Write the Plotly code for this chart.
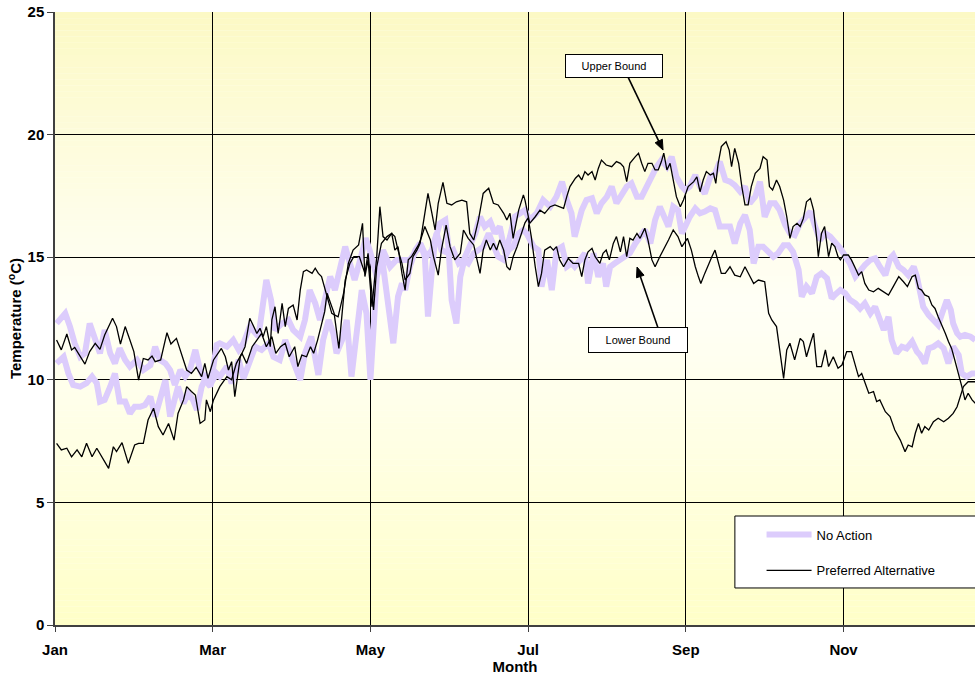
import plotly.graph_objects as go

# Month positions (0 = 1 Jan, 1 = 1 Feb, ...), temperatures in deg C.
# No Action: two bounding traces
na_a_month = [0.02, 0.13, 0.19, 0.25, 0.32, 0.38, 0.44, 0.51, 0.57, 0.63, 0.70, 0.76, 0.82, 0.89, 0.95, 1.04,
              1.12, 1.21, 1.27, 1.33, 1.40, 1.46, 1.52, 1.59, 1.65, 1.71, 1.78, 1.84, 1.90, 1.97, 2.01, 2.05,
              2.09, 2.18, 2.26, 2.33, 2.39, 2.47, 2.58, 2.68, 2.74, 2.79, 2.88, 2.96, 3.02, 3.11, 3.17, 3.23,
              3.30, 3.36, 3.42, 3.49, 3.55, 3.61, 3.68, 3.74, 3.80, 3.87, 3.94, 3.99, 4.08, 4.16, 4.25, 4.33,
              4.42, 4.50, 4.59, 4.65, 4.71, 4.78, 4.84, 4.90, 4.99, 5.05, 5.12, 5.18, 5.24, 5.31, 5.37, 5.43,
              5.50, 5.56, 5.62, 5.69, 5.75, 5.81, 5.88, 5.94, 5.98, 6.07, 6.13, 6.17, 6.24, 6.30, 6.36, 6.43,
              6.49, 6.55, 6.59, 6.66, 6.72, 6.76, 6.83, 6.89, 6.95, 6.99, 7.04, 7.10, 7.17, 7.23, 7.29, 7.36,
              7.42, 7.48, 7.55, 7.61, 7.67, 7.74, 7.78, 7.84, 7.90, 7.95, 7.99, 8.05, 8.12, 8.18, 8.24, 8.31,
              8.37, 8.43, 8.50, 8.56, 8.62, 8.69, 8.75, 8.81, 8.86, 8.92, 8.98, 9.05, 9.11, 9.17, 9.24, 9.30,
              9.36, 9.43, 9.47, 9.53, 9.60, 9.66, 9.72, 9.79, 9.85, 9.89, 9.96, 10.02, 10.08, 10.15, 10.21,
              10.27, 10.34, 10.40, 10.46, 10.51, 10.57, 10.61, 10.67, 10.74, 10.80, 10.87, 10.93, 10.97, 11.03,
              11.08, 11.14, 11.20, 11.27, 11.33, 11.39, 11.46, 11.50, 11.56, 11.63, 11.67]
na_a_temp = [12.30, 12.71, 12.17, 11.49, 10.94, 11.08, 12.30, 11.62, 11.08, 12.03, 11.08, 10.67, 11.28, 10.81, 10.54, 10.81,
             10.40, 10.60, 11.35, 10.81, 10.67, 10.40, 9.79, 10.40, 10.13, 10.40, 11.22, 10.40, 9.99, 9.72, 10.67, 11.42,
             11.49, 11.35, 11.62, 11.22, 11.49, 12.17, 11.76, 14.07, 13.25, 12.03, 12.30, 12.44, 12.03, 11.76, 12.44, 13.66,
             13.12, 12.44, 13.25, 14.21, 13.66, 14.48, 15.43, 14.75, 14.07, 14.89, 15.77, 15.29, 14.20, 15.29, 14.61, 14.89,
             14.89, 14.89, 15.29, 15.43, 15.02, 15.29, 15.97, 15.29, 15.16, 15.29, 14.75, 14.89, 14.75, 15.16, 15.29, 15.43,
             15.97, 15.43, 15.02, 14.89, 15.29, 15.43, 15.97, 16.11, 15.97, 15.43, 15.29, 13.80, 14.89, 13.66, 15.29, 15.43,
             14.61, 14.75, 14.61, 14.89, 15.16, 13.93, 15.16, 14.20, 14.75, 13.80, 14.61, 14.75, 14.89, 15.02, 15.16, 15.56,
             15.84, 16.11, 15.56, 16.52, 17.06, 16.52, 16.25, 17.06, 16.92, 15.97, 16.25, 16.65, 16.99, 16.79, 16.86, 16.99,
             16.92, 16.25, 16.25, 16.25, 15.56, 16.38, 16.72, 16.11, 14.75, 15.43, 15.43, 15.16, 15.02, 15.16, 15.49, 15.49,
             15.22, 14.48, 13.39, 13.80, 13.53, 14.20, 14.34, 14.14, 13.32, 13.46, 13.66, 13.53, 13.26, 13.12, 12.91,
             13.12, 12.71, 12.98, 12.51, 12.03, 12.57, 11.62, 11.08, 11.35, 11.28, 11.56, 11.15, 11.01, 10.67,
             11.28, 11.35, 11.49, 11.28, 10.67, 11.35, 11.01, 10.26, 10.13, 10.26, 10.26]

na_b_month = [0.02, 0.11, 0.17, 0.23, 0.32, 0.40, 0.47, 0.53, 0.57, 0.63, 0.70, 0.76, 0.82, 0.89, 0.95, 1.01,
              1.08, 1.14, 1.21, 1.27, 1.33, 1.40, 1.46, 1.52, 1.56, 1.63, 1.69, 1.75, 1.80, 1.86, 1.92, 1.99,
              2.05, 2.09, 2.18, 2.24, 2.33, 2.39, 2.45, 2.54, 2.62, 2.71, 2.77, 2.85, 2.92, 2.98, 3.04, 3.11,
              3.17, 3.25, 3.34, 3.40, 3.47, 3.53, 3.57, 3.64, 3.70, 3.76, 3.83, 3.89, 3.95, 4.00, 4.08, 4.14,
              4.19, 4.25, 4.29, 4.35, 4.40, 4.44, 4.50, 4.57, 4.63, 4.69, 4.73, 4.78, 4.82, 4.88, 4.95, 4.99,
              5.03, 5.09, 5.14, 5.20, 5.26, 5.33, 5.39, 5.45, 5.52, 5.58, 5.64, 5.71, 5.77, 5.83, 5.90, 5.96,
              6.02, 6.11, 6.19, 6.28, 6.36, 6.43, 6.49, 6.55, 6.59, 6.68, 6.74, 6.81, 6.87, 6.93, 7.00, 7.06,
              7.12, 7.19, 7.25, 7.31, 7.38, 7.44, 7.50, 7.57, 7.63, 7.69, 7.76, 7.82, 7.88, 7.95, 7.99, 8.05,
              8.12, 8.18, 8.24, 8.31, 8.37, 8.43, 8.50, 8.56, 8.62, 8.69, 8.75, 8.81, 8.88, 8.94, 9.00, 9.07,
              9.13, 9.19, 9.26, 9.32, 9.38, 9.45, 9.51, 9.58, 9.64, 9.70, 9.77, 9.83, 9.96, 10.02, 10.08,
              10.15, 10.21, 10.27, 10.34, 10.40, 10.46, 10.53, 10.59, 10.63, 10.70, 10.76, 10.82, 10.89, 10.93,
              10.97, 11.01, 11.08, 11.14, 11.20, 11.25, 11.31, 11.36, 11.39, 11.44, 11.48, 11.54, 11.61, 11.67]
na_b_temp = [10.67, 10.94, 10.26, 9.79, 9.72, 9.86, 10.13, 9.86, 9.11, 9.18, 9.72, 10.26, 9.11, 9.11, 8.63, 8.90,
             8.90, 8.97, 9.31, 8.50, 9.18, 9.99, 8.50, 9.18, 9.72, 9.04, 9.45, 9.18, 8.77, 9.72, 10.13, 9.92,
             10.26, 10.13, 10.54, 9.85, 10.81, 10.06, 10.54, 11.35, 11.22, 11.49, 10.94, 10.81, 11.62, 11.08, 10.54, 9.99,
             11.08, 11.76, 10.20, 11.62, 12.44, 11.89, 11.08, 11.62, 12.44, 10.13, 12.03, 13.66, 12.71, 10.00, 14.20, 15.16,
             13.93, 12.44, 11.49, 13.39, 13.93, 13.66, 14.61, 15.29, 15.57, 15.02, 12.58, 14.48, 15.70, 16.38, 16.52, 15.43,
             13.25, 12.30, 14.20, 15.02, 15.43, 15.97, 16.65, 16.25, 16.45, 15.97, 16.25, 15.16, 15.84, 16.65, 16.79, 16.92,
             16.52, 16.79, 17.33, 17.06, 17.47, 18.08, 17.33, 16.79, 15.84, 16.92, 17.33, 17.40, 16.79, 17.20, 17.47, 17.88,
             17.20, 17.60, 17.88, 18.01, 17.47, 17.47, 17.88, 18.28, 18.69, 18.96, 18.69, 19.10, 18.28, 17.88, 17.74, 17.88,
             18.35, 17.88, 17.60, 18.28, 18.42, 18.90, 18.15, 18.08, 17.94, 17.67, 17.88, 17.20, 17.47, 18.08, 16.65, 17.20,
             17.20, 16.92, 16.31, 15.97, 15.90, 16.38, 16.65, 16.86, 16.25, 15.70, 15.97, 15.84, 15.36, 15.09, 14.75,
             14.21, 14.48, 14.68, 14.89, 14.95, 14.61, 14.27, 14.95, 15.09, 14.61, 14.48, 14.27, 14.61, 14.21,
             13.53, 12.98, 12.64, 12.44, 12.23, 12.71, 13.25, 12.85, 12.30, 11.90, 11.76, 11.83, 11.76, 11.62]

# Preferred Alternative: upper and lower bounds
pa_hi_month = [0.02, 0.08, 0.15, 0.21, 0.25, 0.32, 0.38, 0.44, 0.51, 0.57, 0.63, 0.73, 0.78, 0.83, 0.89, 0.95,
               1.00, 1.06, 1.12, 1.18, 1.23, 1.27, 1.34, 1.42, 1.47, 1.54, 1.61, 1.67, 1.73, 1.79, 1.86, 1.90,
               1.94, 2.01, 2.11, 2.16, 2.20, 2.24, 2.28, 2.35, 2.41, 2.47, 2.52, 2.56, 2.60, 2.64, 2.68, 2.73,
               2.75, 2.79, 2.83, 2.88, 2.92, 2.96, 3.02, 3.07, 3.11, 3.15, 3.19, 3.26, 3.30, 3.34, 3.38, 3.45,
               3.51, 3.55, 3.59, 3.66, 3.72, 3.78, 3.85, 3.90, 3.93, 3.97, 4.02, 4.08, 4.12, 4.16, 4.21, 4.27,
               4.31, 4.35, 4.40, 4.44, 4.50, 4.54, 4.59, 4.63, 4.67, 4.73, 4.78, 4.82, 4.86, 4.92, 4.97, 5.03,
               5.09, 5.16, 5.22, 5.26, 5.31, 5.37, 5.43, 5.50, 5.56, 5.62, 5.69, 5.73, 5.77, 5.81, 5.88, 5.94,
               5.96, 6.02, 6.09, 6.15, 6.21, 6.28, 6.34, 6.40, 6.45, 6.49, 6.53, 6.60, 6.64, 6.68, 6.72, 6.76,
               6.81, 6.85, 6.89, 6.93, 6.99, 7.06, 7.12, 7.17, 7.21, 7.25, 7.29, 7.36, 7.40, 7.44, 7.48, 7.52,
               7.57, 7.61, 7.65, 7.69, 7.72, 7.76, 7.80, 7.84, 7.88, 7.93, 7.97, 8.03, 8.10, 8.14, 8.18, 8.22,
               8.26, 8.31, 8.35, 8.38, 8.41, 8.45, 8.51, 8.55, 8.58, 8.62, 8.67, 8.71, 8.75, 8.79, 8.83, 8.88,
               8.94, 8.98, 9.03, 9.06, 9.10, 9.15, 9.19, 9.24, 9.28, 9.32, 9.36, 9.41, 9.45, 9.49, 9.53, 9.58,
               9.62, 9.66, 9.68, 9.72, 9.76, 9.81, 9.85, 9.89, 9.93, 9.96, 10.00, 10.06, 10.10, 10.15, 10.19,
               10.23, 10.27, 10.32, 10.38, 10.44, 10.51, 10.57, 10.63, 10.70, 10.76, 10.81, 10.87, 10.91, 10.95,
               10.99, 11.03, 11.08, 11.12, 11.16, 11.20, 11.25, 11.29, 11.33, 11.37, 11.41, 11.46, 11.50, 11.54,
               11.58, 11.63, 11.67]
pa_hi_temp = [11.62, 11.22, 11.87, 11.22, 11.32, 10.94, 10.64, 11.15, 11.49, 11.24, 11.83, 12.51, 12.17, 11.46, 12.17, 11.62,
              11.15, 9.99, 10.87, 10.81, 10.97, 10.74, 10.81, 11.92, 11.46, 11.69, 10.94, 10.40, 10.26, 10.51, 10.13, 10.67,
              10.06, 10.81, 11.28, 10.94, 10.40, 10.74, 9.31, 10.94, 11.35, 12.51, 12.17, 11.89, 12.10, 11.76, 12.17, 11.35,
              12.44, 12.98, 11.89, 13.12, 12.17, 12.91, 13.05, 12.44, 13.66, 14.41, 14.48, 14.34, 14.55, 14.34, 14.21, 13.39,
              12.71, 12.64, 12.57, 13.53, 14.75, 15.29, 15.50, 16.38, 14.21, 14.89, 12.98, 15.02, 17.06, 15.84, 15.70, 15.97,
              15.84, 15.29, 14.75, 14.07, 14.34, 15.02, 15.29, 15.57, 16.45, 17.60, 16.79, 16.11, 17.20, 18.05, 17.20, 17.13,
              17.26, 17.33, 17.26, 15.97, 15.70, 16.52, 17.60, 17.81, 17.20, 17.13, 16.79, 16.52, 16.79, 15.77, 16.92, 17.54,
              17.33, 16.38, 16.65, 16.92, 16.79, 17.06, 17.13, 17.06, 16.99, 17.47, 17.88, 18.22, 18.35, 18.15, 18.49, 18.35,
              18.49, 18.15, 18.62, 18.96, 18.76, 18.69, 18.90, 18.83, 18.69, 18.08, 18.83, 19.10, 19.24, 18.83, 18.49, 18.83,
              18.83, 18.56, 18.56, 18.90, 19.24, 18.56, 18.83, 18.15, 17.47, 17.06, 17.33, 17.88, 18.08, 18.28, 17.67, 18.15,
              18.49, 18.35, 18.42, 18.01, 18.83, 19.51, 19.71, 19.37, 18.69, 19.44, 18.83, 17.88, 17.13, 17.13, 17.88, 18.42,
              18.62, 19.10, 18.96, 17.88, 17.74, 18.15, 17.88, 17.33, 16.65, 15.77, 16.25, 16.38, 16.25, 16.58, 17.26, 17.40,
              16.92, 15.77, 15.02, 15.97, 16.25, 15.02, 15.57, 15.43, 15.02, 14.89, 15.09, 15.09, 14.89, 14.55, 14.27,
              14.41, 13.93, 13.66, 13.59, 13.73, 13.59, 13.46, 13.80, 14.21, 14.00, 13.80, 14.21, 14.27, 13.73,
              13.66, 13.46, 13.39, 13.05, 12.91, 12.57, 12.23, 11.90, 11.56, 11.28, 10.81, 10.26, 9.72, 9.18,
              9.45, 9.18, 9.04]

pa_lo_month = [0.02, 0.08, 0.15, 0.21, 0.28, 0.34, 0.40, 0.47, 0.53, 0.59, 0.68, 0.74, 0.78, 0.85, 0.93, 1.01,
               1.06, 1.12, 1.18, 1.25, 1.31, 1.37, 1.44, 1.51, 1.56, 1.63, 1.67, 1.73, 1.78, 1.84, 1.90, 1.92,
               1.97, 2.01, 2.05, 2.09, 2.18, 2.24, 2.30, 2.37, 2.43, 2.50, 2.56, 2.62, 2.68, 2.75, 2.80, 2.86,
               2.92, 2.97, 3.04, 3.08, 3.13, 3.19, 3.24, 3.28, 3.33, 3.37, 3.42, 3.45, 3.50, 3.54, 3.60, 3.64,
               3.68, 3.74, 3.79, 3.86, 3.93, 3.97, 4.04, 4.08, 4.14, 4.21, 4.27, 4.31, 4.35, 4.40, 4.44, 4.48,
               4.52, 4.57, 4.61, 4.65, 4.69, 4.76, 4.80, 4.86, 4.90, 4.96, 5.01, 5.07, 5.14, 5.18, 5.24, 5.31,
               5.35, 5.39, 5.43, 5.47, 5.52, 5.56, 5.60, 5.64, 5.69, 5.73, 5.77, 5.81, 5.86, 5.90, 5.96, 6.00,
               6.04, 6.09, 6.13, 6.17, 6.21, 6.28, 6.32, 6.36, 6.40, 6.45, 6.51, 6.57, 6.64, 6.68, 6.72, 6.76,
               6.81, 6.85, 6.91, 6.95, 6.99, 7.03, 7.08, 7.12, 7.17, 7.21, 7.25, 7.29, 7.33, 7.38, 7.42, 7.48,
               7.52, 7.57, 7.61, 7.67, 7.74, 7.78, 7.84, 7.90, 7.95, 8.02, 8.07, 8.12, 8.16, 8.19, 8.24, 8.29,
               8.33, 8.37, 8.41, 8.45, 8.50, 8.56, 8.62, 8.69, 8.75, 8.81, 8.86, 8.92, 9.00, 9.05, 9.09, 9.15,
               9.19, 9.24, 9.28, 9.32, 9.38, 9.45, 9.49, 9.53, 9.58, 9.62, 9.66, 9.72, 9.77, 9.81, 9.87, 9.93,
               9.98, 10.04, 10.10, 10.15, 10.19, 10.23, 10.27, 10.32, 10.38, 10.42, 10.46, 10.53, 10.59, 10.65,
               10.72, 10.78, 10.82, 10.87, 10.91, 10.95, 10.99, 11.03, 11.08, 11.14, 11.20, 11.27, 11.33, 11.39,
               11.44, 11.48, 11.52, 11.58, 11.67]
pa_lo_temp = [7.41, 7.14, 7.21, 6.86, 7.14, 6.86, 7.41, 6.86, 7.21, 6.86, 6.39, 7.27, 7.07, 7.44, 6.59, 7.34,
              7.41, 7.41, 8.36, 8.84, 8.09, 7.75, 8.22, 7.54, 8.63, 9.18, 9.72, 9.52, 9.38, 8.22, 8.36, 9.18,
              8.70, 9.18, 9.45, 9.72, 10.13, 10.00, 10.67, 11.08, 10.67, 11.35, 11.62, 11.89, 11.35, 11.76, 11.08, 11.35,
              11.49, 10.94, 11.35, 10.54, 11.01, 10.94, 11.35, 11.08, 11.62, 12.17, 12.78, 13.53, 13.12, 12.71, 11.28, 12.85,
              14.07, 14.75, 15.02, 15.02, 14.34, 15.16, 12.85, 14.61, 15.57, 15.84, 15.97, 15.29, 15.43, 14.34, 13.66, 14.89,
              15.02, 15.29, 15.50, 15.84, 16.25, 15.70, 15.02, 14.27, 15.29, 16.31, 15.43, 14.89, 15.16, 16.11, 15.77, 15.50,
              14.89, 14.34, 15.29, 15.70, 15.29, 15.57, 15.29, 15.70, 15.29, 14.61, 14.48, 15.02, 15.43, 15.84, 16.40, 16.60,
              15.84, 14.61, 13.80, 14.34, 15.29, 15.43, 15.29, 15.43, 14.89, 14.61, 14.95, 14.75, 14.75, 14.21, 14.89, 15.22,
              15.36, 15.02, 14.75, 15.16, 15.29, 14.89, 15.56, 15.84, 15.22, 15.84, 15.02, 15.77, 15.70, 15.97, 15.77, 16.18,
              15.70, 14.89, 14.61, 15.02, 15.43, 15.70, 16.11, 15.84, 15.43, 15.77, 15.29, 14.61, 14.20, 13.93, 14.34, 14.75,
              15.02, 15.29, 14.75, 14.34, 14.34, 14.61, 14.27, 14.20, 14.61, 14.20, 13.93, 14.07, 14.00, 12.71, 12.44, 12.17,
              11.22, 10.06, 11.22, 11.49, 10.81, 11.69, 11.56, 10.94, 11.49, 11.90, 10.54, 10.54, 11.22, 10.54, 10.94, 10.47,
              10.60, 11.15, 11.15, 10.54, 10.13, 10.26, 9.92, 9.45, 9.52, 9.11, 9.18, 8.70, 8.50, 7.95,
              7.54, 7.07, 7.34, 7.27, 7.82, 8.22, 7.82, 8.09, 7.95, 8.29, 8.43, 8.29, 8.43, 8.63,
              8.90, 9.31, 9.72, 9.92, 9.92]

month_ticks = [0, 2, 4, 6, 8, 10]
month_labels = ["Jan", "Mar", "May", "Jul", "Sep", "Nov"]
temp_ticks = [0, 5, 10, 15, 20, 25]

FONT = "Liberation Sans, Arial, sans-serif"
NA_COLOR = "#DCCCFC"
X_MAX = 11.667

fig = go.Figure()

fig.add_trace(go.Scatter(x=na_a_month, y=na_a_temp, mode="lines", name="No Action",
                         line=dict(color=NA_COLOR, width=6), legendgroup="na", showlegend=True))
fig.add_trace(go.Scatter(x=na_b_month, y=na_b_temp, mode="lines", name="No Action",
                         line=dict(color=NA_COLOR, width=6), legendgroup="na", showlegend=False))
fig.add_trace(go.Scatter(x=pa_hi_month, y=pa_hi_temp, mode="lines", name="Preferred Alternative",
                         line=dict(color="black", width=1.3), legendgroup="pa", showlegend=True))
fig.add_trace(go.Scatter(x=pa_lo_month, y=pa_lo_temp, mode="lines", name="Preferred Alternative",
                         line=dict(color="black", width=1.3), legendgroup="pa", showlegend=False))

# Plot-area background: pale yellow fading to near white around the middle
shapes = []
n_bands = 100
centre = 13.0
edge_top = (252, 249, 196)
edge_bot = (255, 255, 200)
mid = (255, 255, 246)
for i in range(n_bands):
    y0 = 25.0 * i / n_bands
    y1 = 25.0 * (i + 1) / n_bands
    yc = 0.5 * (y0 + y1)
    if yc >= centre:
        t = (yc - centre) / (25.0 - centre)
        edge = edge_top
    else:
        t = (centre - yc) / centre
        edge = edge_bot
    t = t ** 1.1
    c = tuple(round(mid[k] + (edge[k] - mid[k]) * t) for k in range(3))
    shapes.append(dict(type="rect", xref="x", yref="y", x0=0, x1=X_MAX, y0=y0, y1=y1,
                       fillcolor="rgb(%d,%d,%d)" % c, line=dict(width=0), layer="below"))

# Legend frame (runs off the right-hand edge)
shapes.append(dict(type="rect", xref="paper", yref="paper", x0=0.739, x1=1.08, y0=0.0604, y1=0.1778,
                   fillcolor="white", line=dict(color="black", width=1), layer="above"))


def arrow_shapes(head_x, head_y, shaft, head):
    """Pointer from a label box to a curve: shaft line plus a filled head,
    sized in pixels around the (data-space) arrow tip."""
    common = dict(xref="x", yref="y", xsizemode="pixel", ysizemode="pixel",
                  xanchor=head_x, yanchor=head_y, layer="above")
    return [
        dict(type="path", path=shaft, line=dict(color="black", width=1.6), **common),
        dict(type="path", path=head, fillcolor="black", line=dict(color="black", width=1), **common),
    ]


# "Upper Bound" pointer
shapes += arrow_shapes(7.711, 19.37, "M-35,73 L-4.3,9.0", "M0,0 L-0.7,10.8 L-7.9,7.3 Z")
# "Lower Bound" pointer
shapes += arrow_shapes(7.381, 14.60, "M21,-61 L3.3,-9.5", "M0,0 L7.0,-8.2 L-0.5,-10.8 Z")

annotations = [
    dict(x=7.089, y=22.80, xref="x", yref="y", text="Upper Bound", showarrow=False,
         font=dict(family=FONT, size=11, color="black"), bgcolor="white",
         bordercolor="black", borderwidth=1, borderpad=2, width=92, height=18),
    dict(x=7.394, y=11.62, xref="x", yref="y", text="Lower Bound", showarrow=False,
         font=dict(family=FONT, size=11, color="black"), bgcolor="white",
         bordercolor="black", borderwidth=1, borderpad=2, width=94, height=20),
]

fig.update_layout(
    width=975, height=678,
    margin=dict(l=55, r=0, t=12, b=53),
    paper_bgcolor="white", plot_bgcolor="#FFFFF0",
    font=dict(family=FONT, color="black"),
    shapes=shapes, annotations=annotations,
    showlegend=True,
    legend=dict(x=0.768, y=0.172, xanchor="left", yanchor="top",
                bgcolor="rgba(0,0,0,0)", borderwidth=0,
                font=dict(family=FONT, size=13, color="black"),
                traceorder="grouped", tracegroupgap=16, itemwidth=45),
)

fig.update_xaxes(
    range=[0, X_MAX], tickvals=month_ticks, ticktext=month_labels,
    showgrid=True, gridcolor="black", gridwidth=1, zeroline=False,
    showline=True, linecolor="#404040", linewidth=2,
    ticks="outside", ticklen=5, tickcolor="#404040", ticklabelstandoff=5,
    tickfont=dict(family=FONT, size=15, color="black", weight="bold"),
    title=dict(text="Month", font=dict(family=FONT, size=15, color="black", weight="bold"), standoff=2),
)
fig.update_yaxes(
    range=[0, 25], tickvals=temp_ticks,
    showgrid=True, gridcolor="black", gridwidth=1, zeroline=False,
    showline=True, linecolor="#404040", linewidth=1.5,
    ticks="outside", ticklen=6, tickcolor="#404040",
    tickfont=dict(family=FONT, size=15, color="black", weight="bold"),
    title=dict(text="Temperature (<sup>o</sup>C)", font=dict(family=FONT, size=15, color="black", weight="bold"),
               standoff=2),
)

fig.write_html("out.html")
